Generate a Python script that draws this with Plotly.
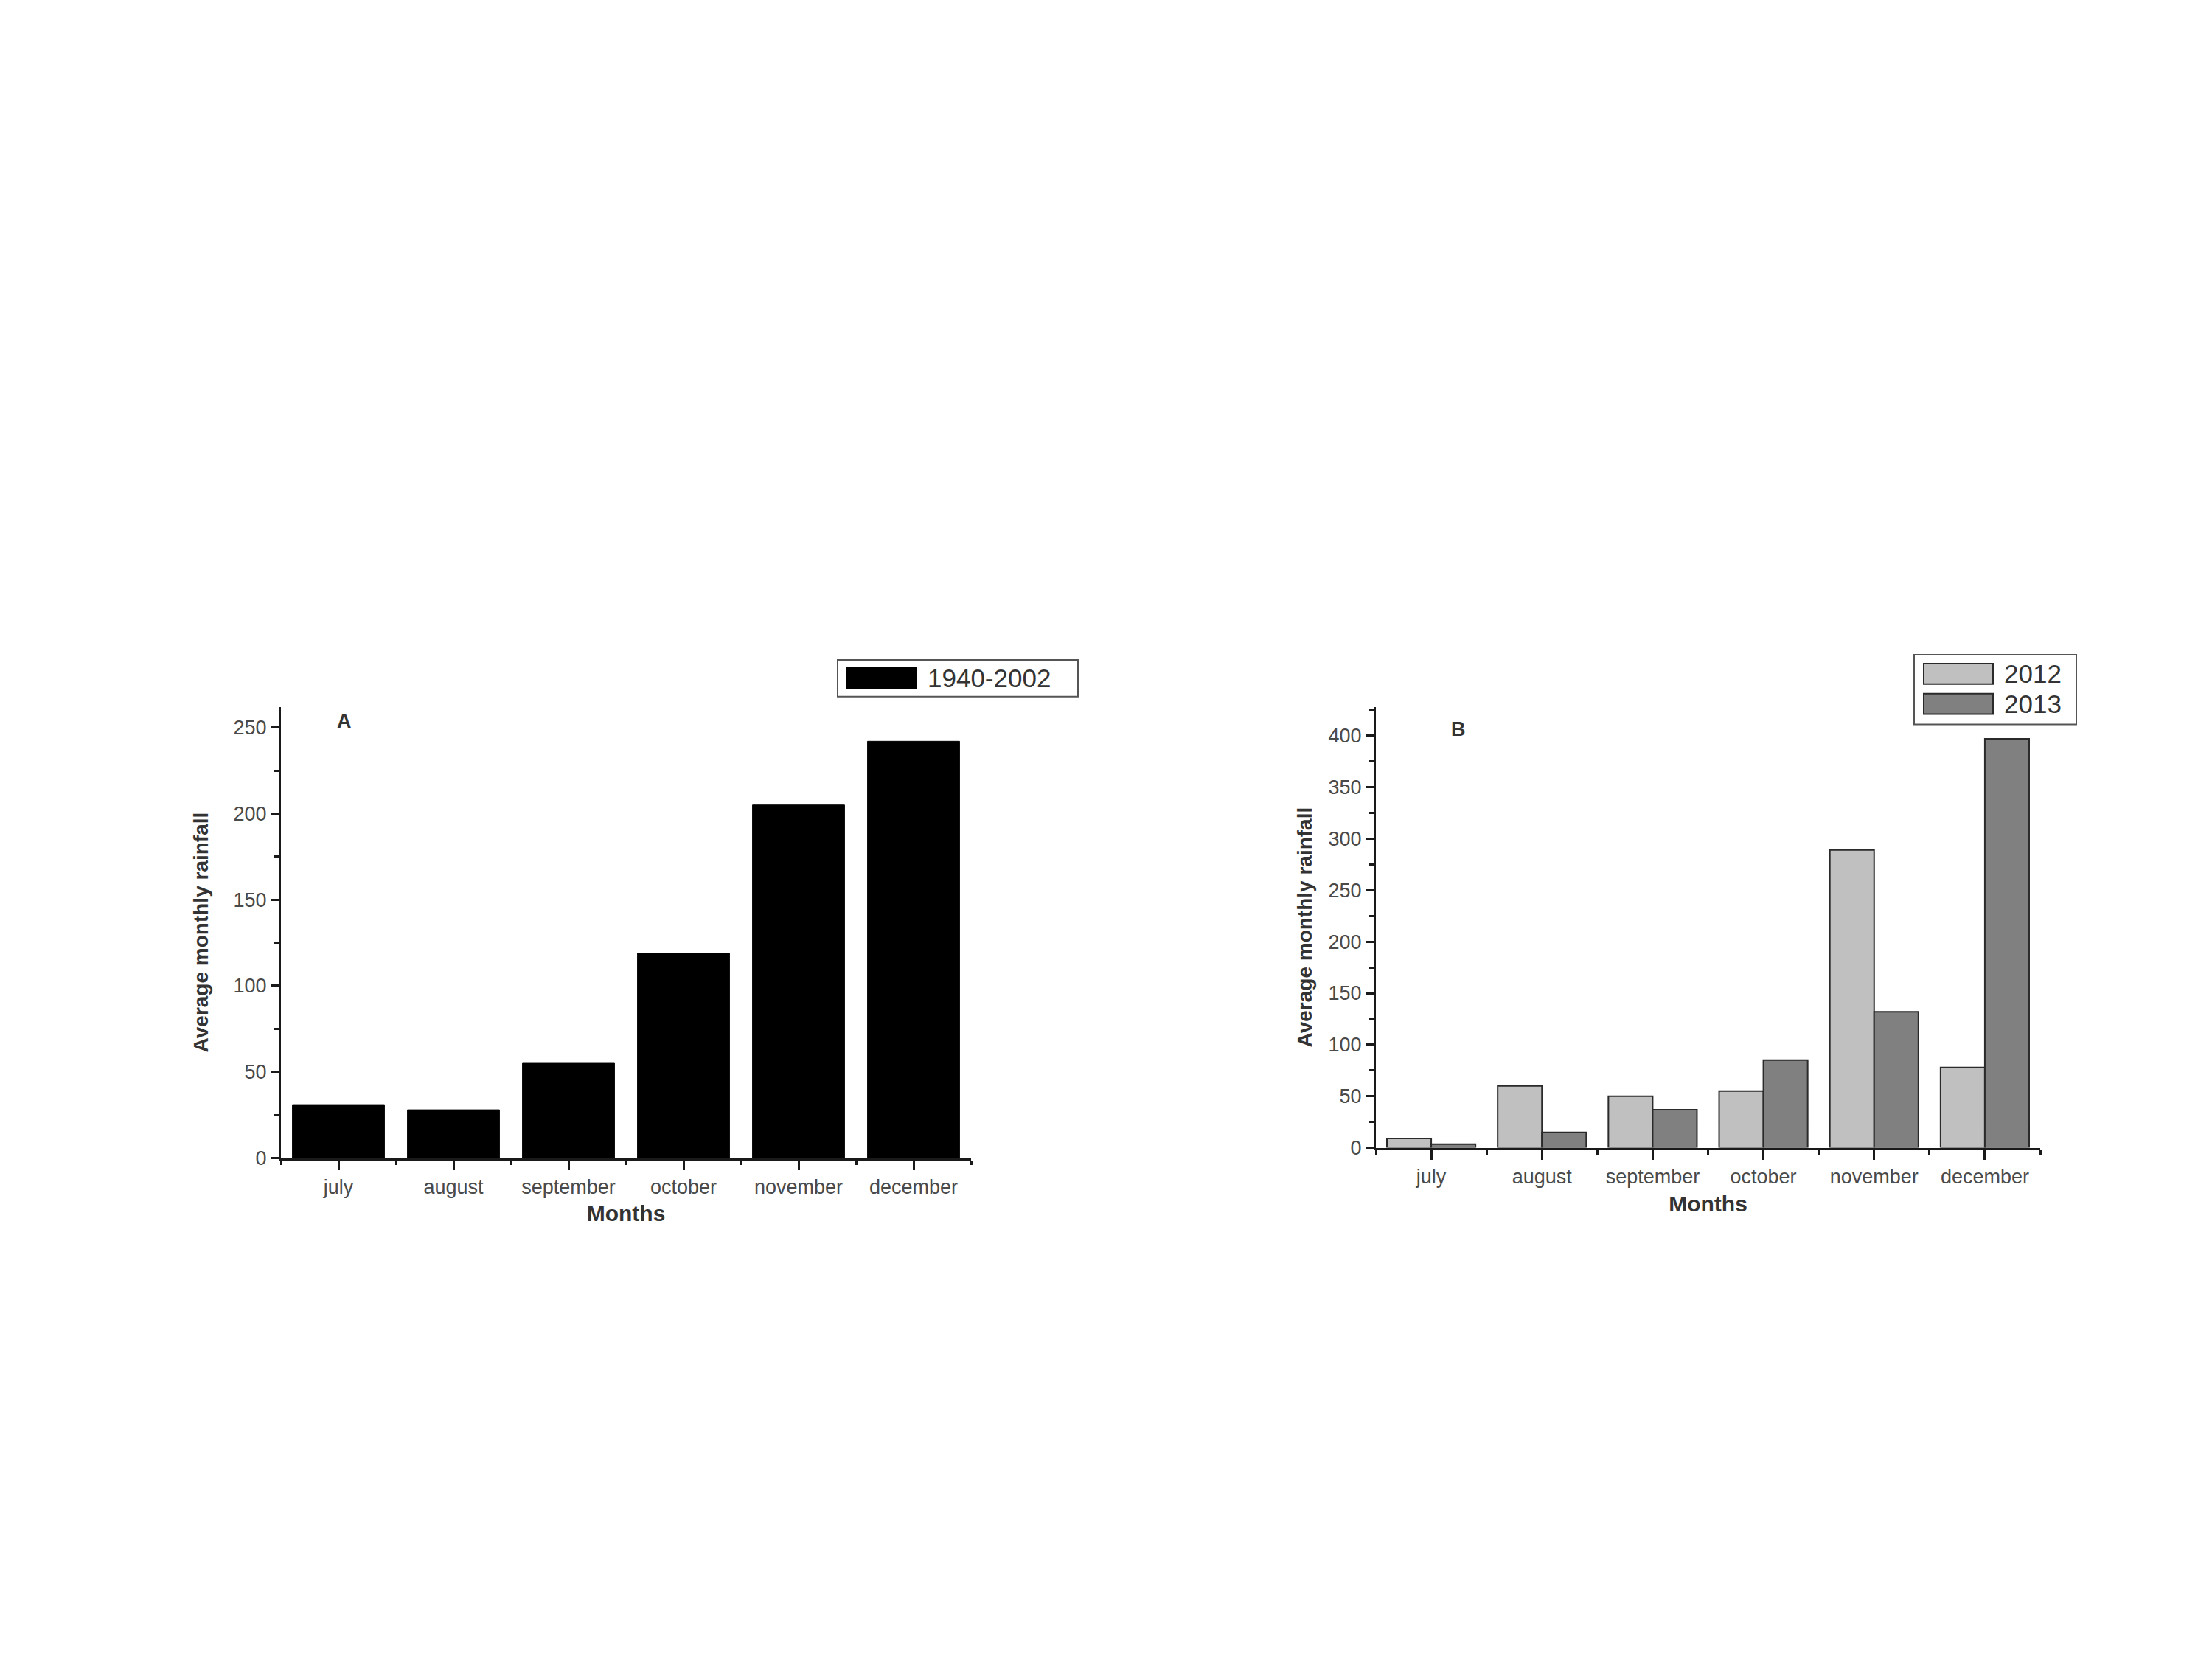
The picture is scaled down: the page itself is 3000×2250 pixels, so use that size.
import plotly.graph_objects as go

# rainfall data
months = ["july", "august", "september", "october", "november", "december"]
avg_1940_2002 = [31, 28, 55, 119, 205, 242]
rain_2012 = [9, 60, 50, 55, 289, 78]
rain_2013 = [3.5, 15, 37, 85, 132, 397]

FONT = "Liberation Sans, Arial, sans-serif"
TICK_COLOR = "#4a4a4a"
TITLE_COLOR = "#333333"
AXIS_COLOR = "#1a1a1a"

# the page body has an 8px margin, so x positions are pulled back by that much
W, H = 3000, 2250
OFFSET = 8


def px_x(v):
    return (v - OFFSET) / W


def px_y(v):
    return 1 - v / H


idx = list(range(len(months)))
bounds = [i - 0.5 for i in range(len(months) + 1)]

fig = go.Figure()

fig.add_trace(go.Bar(
    x=idx, y=avg_1940_2002, name="1940-2002",
    marker={"color": "#000000", "line": {"color": "#000000", "width": 1}},
    xaxis="x", yaxis="y", showlegend=False,
))
fig.add_trace(go.Bar(
    x=idx, y=rain_2012, name="2012",
    marker={"color": "#c0c0c0", "line": {"color": "#2a2a2a", "width": 2}},
    xaxis="x2", yaxis="y2", showlegend=False,
))
fig.add_trace(go.Bar(
    x=idx, y=rain_2013, name="2013",
    marker={"color": "#808080", "line": {"color": "#2a2a2a", "width": 2}},
    xaxis="x2", yaxis="y2", showlegend=False,
))


def xaxis_style(domain, anchor):
    return {
        "domain": domain, "anchor": anchor,
        "range": [-0.5, len(months) - 0.5],
        "tickmode": "array", "tickvals": idx, "ticktext": months,
        "ticks": "outside", "ticklen": 13, "tickwidth": 3, "tickcolor": AXIS_COLOR,
        "minor": {"tickmode": "array", "tickvals": bounds, "ticks": "outside",
                  "ticklen": 6, "tickwidth": 3, "tickcolor": AXIS_COLOR},
        "showline": True, "linecolor": AXIS_COLOR, "linewidth": 3,
        "showgrid": False, "zeroline": False,
        "tickfont": {"family": FONT, "size": 27, "color": TICK_COLOR},
        "title": {"text": "<b>Months</b>", "standoff": 12,
                  "font": {"family": FONT, "size": 30, "color": TITLE_COLOR}},
    }


def yaxis_style(domain, anchor, top, dtick, standoff):
    return {
        "domain": domain, "anchor": anchor,
        "range": [0, top], "dtick": dtick, "tick0": 0,
        "ticks": "outside", "ticklen": 11, "tickwidth": 3, "tickcolor": AXIS_COLOR,
        "minor": {"dtick": dtick / 2, "ticks": "outside", "ticklen": 6,
                  "tickwidth": 3, "tickcolor": AXIS_COLOR},
        "showline": True, "linecolor": AXIS_COLOR, "linewidth": 3,
        "showgrid": False, "zeroline": False,
        "tickfont": {"family": FONT, "size": 27, "color": TICK_COLOR},
        "title": {"text": "<b>Average monthly rainfall</b>", "standoff": standoff,
                  "font": {"family": FONT, "size": 28, "color": TITLE_COLOR}},
    }


fig.update_layout(
    width=W, height=H,
    margin={"l": 0, "r": 0, "t": 0, "b": 0},
    paper_bgcolor="white", plot_bgcolor="white",
    barmode="group", bargap=0.2, bargroupgap=0,
    xaxis=xaxis_style([px_x(381), px_x(1317)], "y"),
    yaxis=yaxis_style([px_y(1573), px_y(957)], "x", 262, 50, 26),
    xaxis2=xaxis_style([px_x(1866), px_x(2767)], "y2"),
    yaxis2=yaxis_style([px_y(1559), px_y(957)], "x2", 428, 50, 14),
    font={"family": FONT},
)

# panel letters
for label, x, y in [("A", 467, 977), ("B", 1978, 988)]:
    fig.add_annotation(text=f"<b>{label}</b>", xref="paper", yref="paper",
                       x=px_x(x), y=px_y(y), xanchor="center", yanchor="middle",
                       showarrow=False, font={"family": FONT, "size": 27, "color": TITLE_COLOR})

# legend boxes drawn as paper shapes
legends = [
    {"box": (1136, 893, 1462, 943),
     "items": [("1940-2002", "#000000", "#000000", 918)]},
    {"box": (2596, 886, 2816, 981),
     "items": [("2012", "#c0c0c0", "#2a2a2a", 912), ("2013", "#808080", "#2a2a2a", 953)]},
]
for lg in legends:
    x0, y0, x1, y1 = lg["box"]
    fig.add_shape(type="rect", xref="paper", yref="paper",
                  x0=px_x(x0), x1=px_x(x1), y0=px_y(y0), y1=px_y(y1),
                  line={"color": "#555555", "width": 2}, fillcolor="white")
    for name, fill, edge, cy in lg["items"]:
        fig.add_shape(type="rect", xref="paper", yref="paper",
                      x0=px_x(x0 + 13), x1=px_x(x0 + 107),
                      y0=px_y(cy - 14), y1=px_y(cy + 14),
                      line={"color": edge, "width": 2}, fillcolor=fill)
        fig.add_annotation(text=name, xref="paper", yref="paper",
                           x=px_x(x0 + 120), y=px_y(cy), xanchor="left", yanchor="middle",
                           showarrow=False,
                           font={"family": FONT, "size": 35, "color": TITLE_COLOR})

fig.write_html("out.html")
